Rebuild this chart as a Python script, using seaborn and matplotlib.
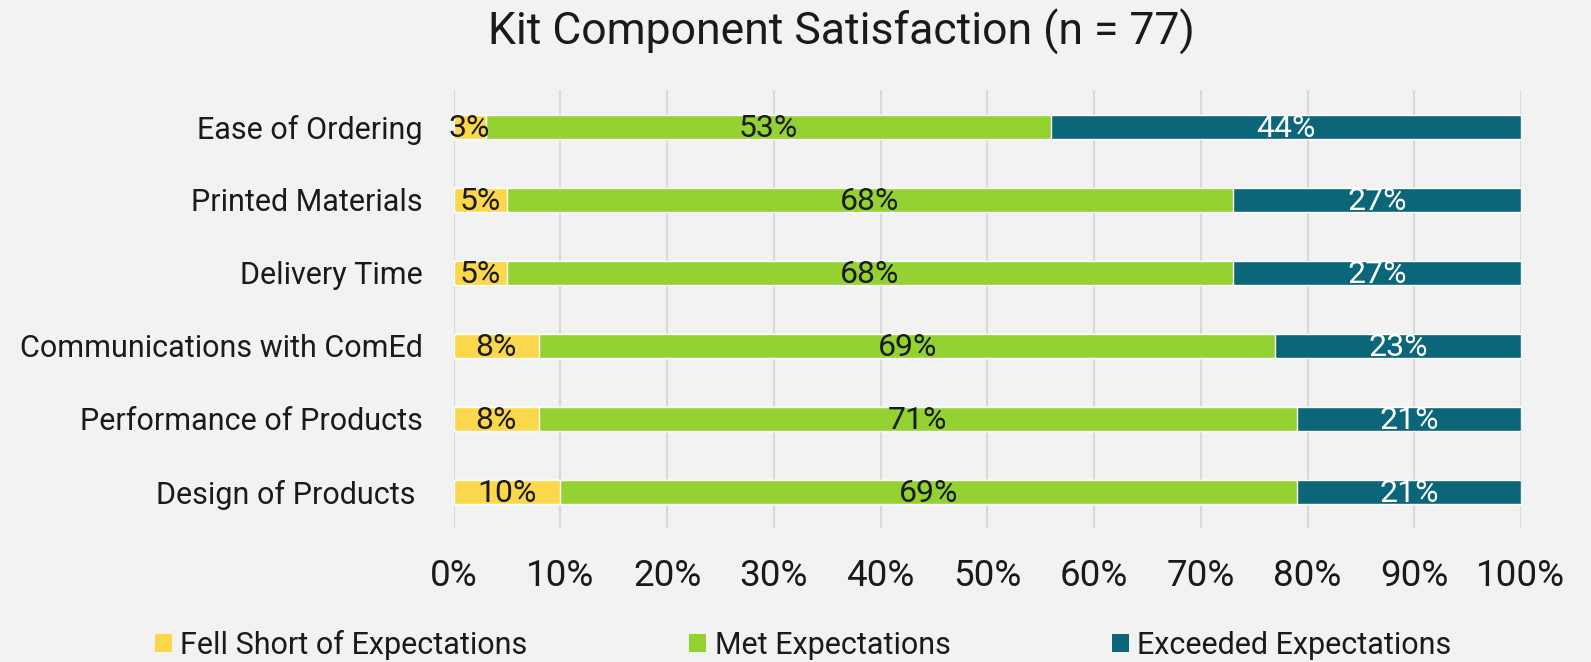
import matplotlib
matplotlib.use("Agg")
import matplotlib.pyplot as plt
from matplotlib.patches import Patch
import seaborn as sns
import pandas as pd

categories = [
    "Ease of Ordering",
    "Printed Materials",
    "Delivery Time",
    "Communications with ComEd",
    "Performance of Products",
    "Design of Products ",
]
fell_short = [3, 5, 5, 8, 8, 10]
met = [53, 68, 68, 69, 71, 69]
exceeded = [44, 27, 27, 23, 21, 21]
series_names = ["Fell Short of Expectations", "Met Expectations", "Exceeded Expectations"]
tick_values = [0, 10, 20, 30, 40, 50, 60, 70, 80, 90, 100]

colors = ["#FBD84B", "#94D232", "#0B6679"]
bg = "#F2F2F2"

sns.set_theme(style="white")
plt.rcParams["font.family"] = ["Roboto", "DejaVu Sans"]

df = pd.DataFrame({"category": categories, "fell": fell_short, "met": met, "exc": exceeded})
df["cum1"] = df["fell"]
df["cum2"] = df["fell"] + df["met"]
df["cum3"] = df["cum2"] + df["exc"]

fig = plt.figure(figsize=(15.91, 6.62), dpi=100, facecolor=bg)
ax = fig.add_axes([0.2851, 0.2017, 0.6709, 0.6616])
ax.set_facecolor(bg)

# stacked bars: draw cumulative totals from longest to shortest
for col, color in zip(["cum3", "cum2", "cum1"], colors[::-1]):
    sns.barplot(data=df, x=col, y="category", color=color, width=0.32,
                saturation=1, orient="h", ax=ax, zorder=3)

# segment value labels
for i, row in df.iterrows():
    starts = [0, row["cum1"], row["cum2"]]
    vals = [row["fell"], row["met"], row["exc"]]
    for j, (s, v) in enumerate(zip(starts, vals)):
        ax.text(s + v / 2, i + 0.02, f"{v}%", ha="center", va="center",
                fontsize=23, color="white" if j == 2 else "#1A1A1A", zorder=5)

ax.set_xlim(0, 100)
ax.set_ylim(5.5, -0.5)
ax.set_xticks(tick_values)
ax.set_xticklabels([f"{t}%" for t in tick_values], fontsize=26.5, color="#1A1A1A")
ax.tick_params(axis="x", length=0, pad=21)
ax.tick_params(axis="y", length=0, pad=22, labelsize=22, labelcolor="#1A1A1A")
ax.set_xlabel("")
ax.set_ylabel("")
ax.grid(axis="x", color="#D9D9D9", linewidth=1.5, zorder=0)
ax.grid(axis="y", visible=False)
for sp in ax.spines.values():
    sp.set_visible(False)

fig.text(0.529, 0.952, "Kit Component Satisfaction (n = 77)", ha="center", va="center",
         fontsize=32, color="#1A1A1A")

handles = [Patch(facecolor=c, edgecolor="none") for c in colors]
fig.legend(handles, series_names, loc="center", bbox_to_anchor=(0.505, 0.026), ncol=3,
           frameon=False, fontsize=22, handlelength=0.55, handleheight=0.55,
           handletextpad=0.27, columnspacing=5.3, labelcolor="#1A1A1A",
           borderpad=0.1)

fig.savefig("out.png", dpi=100, facecolor=bg)
